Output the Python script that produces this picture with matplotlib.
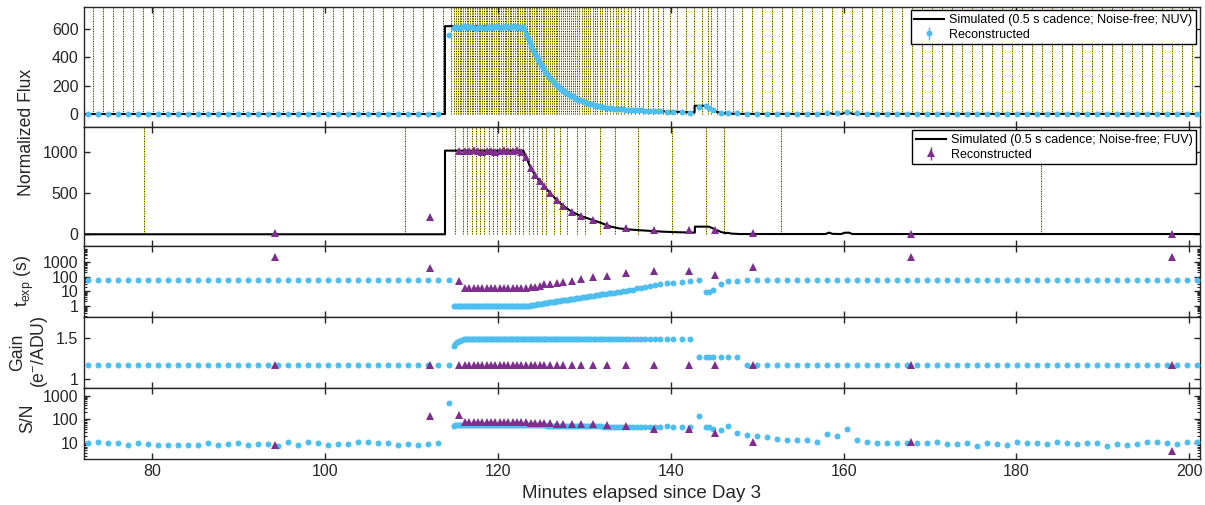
import numpy as np
import matplotlib
matplotlib.use('Agg')
import matplotlib.pyplot as plt
from matplotlib.ticker import LogLocator, NullFormatter

plt.rcParams['font.family'] = ['Liberation Sans', 'DejaVu Sans']
plt.rcParams['mathtext.fontset'] = 'custom'
plt.rcParams['mathtext.rm'] = 'Liberation Sans'
plt.rcParams['mathtext.it'] = 'Liberation Sans'

# ---------------- data ----------------
nuv_time = [72.51, 73.67, 74.82, 75.98, 77.14, 78.30, 79.45, 80.61, 81.77, 82.93, 84.08, 85.24,
            86.40, 87.56, 88.71, 89.87, 91.03, 92.19, 93.34, 94.50, 95.66, 96.82, 97.97, 99.13,
            100.29, 101.45, 102.60, 103.76, 104.92, 106.08, 107.23, 108.39, 109.55, 110.71, 111.86, 113.02,
            114.30,
            114.85, 115.05, 115.25, 115.45, 115.65, 115.85, 116.05, 116.25, 116.45, 116.65, 116.85, 117.05,
            117.25, 117.45, 117.65, 117.85, 118.05, 118.25, 118.45, 118.65, 118.85, 119.05, 119.25, 119.45,
            119.65, 119.85, 120.05, 120.25, 120.45, 120.65, 120.85, 121.05, 121.25, 121.45, 121.65, 121.85,
            122.05, 122.25, 122.45, 122.65, 122.85, 123.05,
            123.25, 123.45, 123.65, 123.85, 124.05, 124.25, 124.45, 124.65, 124.85, 125.06, 125.27, 125.48,
            125.69, 125.90, 126.11, 126.32, 126.54, 126.76, 126.98, 127.20, 127.42, 127.65, 127.88, 128.11,
            128.34, 128.58, 128.82, 129.06, 129.30, 129.54, 129.79, 130.04, 130.29, 130.55, 130.81, 131.08,
            131.35, 131.63, 131.91, 132.20, 132.50, 132.80, 133.11, 133.43, 133.76, 134.10, 134.45, 134.81,
            135.18, 135.58,
            136.04, 136.50, 137.01, 137.59, 138.17, 138.74, 139.52, 140.28, 141.25, 142.22,
            143.24, 144.07, 144.45, 144.91, 145.80, 146.65, 147.69, 148.77, 149.93, 151.08, 152.25, 153.40, 154.56,
            155.79, 156.95, 158.10, 159.26, 160.42, 161.58, 162.73, 163.89, 165.05, 166.21, 167.36, 168.52,
            169.68, 170.84, 171.99, 173.15, 174.31, 175.47, 176.62, 177.78, 178.94, 180.10, 181.25, 182.41,
            183.57, 184.73, 185.88, 187.04, 188.20, 189.36, 190.51, 191.67, 192.83, 193.99, 195.14, 196.30,
            197.46, 198.62, 199.77, 200.93]

nuv_flux = [5, 5, 4, 5, 5, 4, 5, 5, 5, 4, 5, 5, 5, 4, 5, 5, 5, 4, 5, 5, 4, 5, 5, 5,
            4, 5, 5, 5, 4, 5, 5, 5, 4, 5, 5, 5,
            560,
            604, 612, 615, 610, 606, 612, 618, 614, 609, 611, 616, 613, 608, 603, 607, 612, 615, 610,
            605, 609, 614, 611, 606, 612, 617, 620, 615, 609, 612, 616, 618, 612, 608, 613, 617, 619,
            614, 610, 612, 608, 615, 598,
            565, 536, 507, 478, 452, 426, 402, 380, 359, 338, 318, 300, 283, 266, 251, 236, 222, 209,
            197, 185, 174, 163, 153, 144, 135, 127, 119, 111, 104, 98, 92, 86, 80, 75, 70, 66, 62, 58,
            54, 51, 48, 45, 43, 41, 39, 37, 35, 33, 32, 31,
            29, 27, 26, 25, 23, 21, 18, 16, 13, 12,
            53, 58, 48, 30, 11, 7, 6, 5, 5, 5, 5, 5, 5,
            5, 5, 8, 7, 14, 6, 5, 5, 4, 5, 5, 5, 4, 5, 5, 5, 4, 5, 5, 5,
            5, 4, 5, 5, 5, 4, 5, 5, 5, 5, 4, 5, 5, 5, 4, 5, 5, 5, 5, 4]

nuv_texp = [58, 58, 58, 58, 58, 58, 58, 58, 58, 58, 58, 58, 58, 58, 58, 58, 58, 58, 58, 58, 58, 58, 58, 58,
            58, 58, 58, 58, 58, 58, 58, 58, 58, 58, 58, 58,
            58,
            0.9, 0.9, 0.9, 0.9, 0.9, 0.9, 0.9, 0.9, 0.9, 0.9, 0.9, 0.9, 0.9, 0.9, 0.9, 0.9, 0.9, 0.9,
            0.9, 0.9, 0.9, 0.9, 0.9, 0.9, 0.9, 0.9, 0.9, 0.9, 0.9, 0.9, 0.9, 0.9, 0.9, 0.9, 0.9, 0.9,
            0.9, 0.9, 0.9, 0.9, 0.9, 0.9,
            0.92, 0.96, 1.0, 1.05, 1.09, 1.14, 1.19, 1.24, 1.30, 1.36, 1.42, 1.49, 1.56, 1.63, 1.71, 1.78,
            1.87, 1.96, 2.06, 2.16, 2.26, 2.38, 2.50, 2.62, 2.76, 2.9, 3.05, 3.2, 3.37, 3.55, 3.74, 3.95,
            4.16, 4.4, 4.64, 4.91, 5.2, 5.5, 5.84, 6.2, 6.6, 7.0, 7.5, 8.0, 8.6, 9.2, 9.9, 10.6, 11.4, 12.5,
            15.6, 17.3, 20.3, 23.8, 28, 31, 34.7, 38.5, 45, 53,
            56, 9.1, 9.1, 11.9, 31, 48, 50, 57, 57, 57, 57, 57, 57,
            57, 57, 57, 57, 57, 57, 57, 57, 57, 57, 57, 57, 57, 57, 57, 57, 57, 57, 57, 57,
            57, 57, 57, 57, 57, 57, 57, 57, 57, 57, 57, 57, 57, 57, 57, 57, 57, 57, 57, 57]

nuv_gain = [1.17, 1.17, 1.17, 1.17, 1.17, 1.17, 1.17, 1.17, 1.17, 1.17, 1.17, 1.17, 1.17, 1.17, 1.17, 1.17,
            1.17, 1.17, 1.17, 1.17, 1.17, 1.17, 1.17, 1.17, 1.17, 1.17, 1.17, 1.17, 1.17, 1.17, 1.17, 1.17,
            1.17, 1.17, 1.17, 1.17,
            1.17,
            1.41, 1.43, 1.45, 1.46, 1.47, 1.48, 1.49, 1.49, 1.49, 1.49, 1.49, 1.49, 1.49, 1.49, 1.49, 1.49,
            1.49, 1.49, 1.49, 1.49, 1.49, 1.49, 1.49, 1.49, 1.49, 1.49, 1.49, 1.49, 1.49, 1.49, 1.49, 1.49,
            1.49, 1.49, 1.49, 1.49, 1.49, 1.49, 1.49, 1.49, 1.49, 1.49,
            1.49, 1.49, 1.49, 1.49, 1.49, 1.49, 1.49, 1.49, 1.49, 1.49, 1.49, 1.49, 1.49, 1.49, 1.49, 1.49,
            1.49, 1.49, 1.49, 1.49, 1.49, 1.49, 1.49, 1.49, 1.49, 1.49, 1.49, 1.49, 1.49, 1.49, 1.49, 1.49,
            1.49, 1.49, 1.49, 1.49, 1.49, 1.49, 1.49, 1.49, 1.49, 1.49, 1.49, 1.49, 1.49, 1.49, 1.49, 1.49,
            1.49, 1.49,
            1.49, 1.49, 1.49, 1.49, 1.49, 1.49, 1.49, 1.49, 1.49, 1.49,
            1.27, 1.27, 1.27, 1.27, 1.27, 1.27, 1.27, 1.17, 1.17, 1.17, 1.17, 1.17, 1.17,
            1.17, 1.17, 1.17, 1.17, 1.17, 1.17, 1.17, 1.17, 1.17, 1.17, 1.17, 1.17, 1.17, 1.17, 1.17, 1.17,
            1.17, 1.17, 1.17, 1.17, 1.17, 1.17, 1.17, 1.17, 1.17, 1.17, 1.17, 1.17, 1.17, 1.17, 1.17, 1.17,
            1.17, 1.17, 1.17, 1.17, 1.17, 1.17, 1.17, 1.17]

nuv_snr = [10.0, 11.0, 10.0, 10.3, 8.2, 9.7, 8.8, 8.5, 8.2, 8.2, 8.5, 8.5, 9.7, 8.0, 9.1, 9.7, 8.5, 9.4,
           8.8, 7.7, 11.0, 8.5, 10.6, 10.0, 8.5, 9.1, 8.8, 10.6, 10.6, 10.3, 10.3, 8.5, 8.8, 8.5, 9.4, 9.7,
           480,
           55, 56, 57, 58, 59, 59, 59, 59, 59, 59, 59, 59, 59, 59, 59, 59, 59, 59, 59, 59, 59, 59,
           59, 59, 59, 59, 59, 59, 59, 59, 59, 59, 59, 59, 59, 59, 59, 59, 59, 59, 59, 59,
           58, 58, 58, 57, 57, 57, 57, 56, 56, 56, 56, 56, 55, 55, 55, 55, 55, 54, 54, 54, 54, 54, 53, 53,
           53, 53, 53, 52, 52, 52, 52, 52, 52, 51, 51, 51, 51, 51, 51, 50, 50, 50, 50, 50, 50, 50, 50, 50,
           50, 50,
           50, 50, 50, 50, 50, 50, 53, 46, 47, 50,
           141, 50, 47, 40, 36, 52, 26, 21, 19, 17.4, 14.8, 12.9, 13.8,
           12.9, 10.6, 24, 19, 40, 13.8, 11, 10, 10, 10.3, 9.7, 10, 10, 11.4, 9.4, 9.1, 10, 7.2, 10.3, 9.1,
           8.5, 10.6, 10.3, 10.3, 9.4, 11.4, 9.7, 9.1, 10, 9.7, 7.5, 9.4, 8.2, 8.8, 11, 11, 9.7, 9.1, 11.4, 10.6]

fuv_time = [94.15, 112.13, 115.48, 116.18, 116.68, 117.18, 117.68, 118.18, 118.68, 119.18, 119.68,
            120.18, 120.68, 121.18, 121.68, 122.18, 122.68, 123.24, 123.78, 124.28, 124.80, 125.32,
            126.01, 126.79, 127.55, 128.56, 129.60, 130.96, 132.64, 134.84, 138.08, 142.06, 145.11,
            149.54, 167.79, 197.96]
fuv_flux = [10, 207, 1015, 1010, 1020, 1025, 1015, 1005, 1012, 1020, 1000, 1018, 1025, 1010, 1015, 1022,
            1008, 939, 805, 723, 650, 589, 507, 418, 345, 276, 223, 174, 113, 80, 52, 52, 52, 12, 8, 5]
fuv_texp = [2230, 383, 52, 15.6, 15.6, 15.6, 15.6, 15.6, 15.6, 15.6, 15.6, 15.6, 15.6, 15.6, 15.6,
            15.6, 15.6, 15.6, 18.3, 20, 24, 29.5, 31, 35, 43, 53, 66, 91, 118, 172, 263, 263, 138,
            450, 2230, 2230]
fuv_gain = [1.17, 1.17, 1.17, 1.17, 1.17, 1.17, 1.17, 1.17, 1.17, 1.17, 1.17, 1.17, 1.17, 1.17, 1.17,
            1.17, 1.17, 1.17, 1.17, 1.17, 1.17, 1.17, 1.17, 1.17, 1.17, 1.17, 1.17, 1.17, 1.17, 1.17,
            1.17, 1.17, 1.17, 1.17, 1.17, 1.17]
fuv_snr = [8.5, 145, 154, 78, 78, 78, 78, 78, 78, 78, 78, 78, 78, 78, 78, 78, 78, 74, 69, 69, 69, 69,
           68, 66, 66, 66, 64, 62, 57, 54, 39, 39, 26, 11, 10.6, 4.7]

# FUV exposure boundaries (start times of exposures)
fuv_bounds = [79.06, 109.27, 114.96, 115.93, 116.43, 116.93, 117.43, 117.93, 118.43, 118.93, 119.43,
              119.93, 120.43, 120.93, 121.43, 121.93, 122.43, 122.93, 123.55, 124.01, 124.55, 125.05,
              125.60, 126.42, 127.16, 127.94, 129.18, 130.02, 131.85, 133.50, 136.15, 140.08, 144.05,
              146.20, 152.78, 182.85]

# simulated (0.5 s cadence) light curves, as vertices
sim_nuv_t = [72.0, 113.86, 113.86, 122.93, 123.3, 123.8, 124.3, 124.8, 125.3, 125.8, 126.3, 126.8,
             127.3, 127.8, 128.3, 128.8, 129.3, 129.8, 130.5, 131.2, 132.0, 133.0, 134.0, 135.0, 136.0,
             137.5, 139.0, 140.5, 142.0, 142.75, 142.75, 143.9, 144.3, 144.8, 145.3, 145.8, 146.5,
             147.5, 158.0, 158.4, 158.8, 159.8, 160.2, 160.7, 161.0, 201.5]
sim_nuv_f = [2, 2, 620, 620, 557, 482, 417, 362, 314, 272, 236, 205, 179, 156, 136, 119, 104, 91, 76,
             64, 52, 42, 35, 30, 27, 24, 21, 18, 15, 14, 60, 60, 55, 35, 18, 10, 6, 3, 3, 8, 3, 3, 12, 12,
             3, 3]
sim_fuv_t = [72.0, 113.86, 113.86, 122.93, 123.3, 123.8, 124.3, 124.8, 125.3, 125.8, 126.3, 126.8,
             127.3, 127.8, 128.3, 128.8, 129.3, 129.8, 130.5, 131.2, 132.0, 133.0, 134.0, 135.0, 136.0,
             137.5, 139.0, 140.5, 142.0, 142.78, 142.78, 144.4, 144.8, 145.3, 145.8, 146.3, 146.6,
             147.0, 148.0, 157.9, 158.3, 158.7, 159.7, 160.1, 160.6, 161.0, 201.5]
sim_fuv_f = [0, 0, 1020, 1020, 925, 805, 720, 650, 592, 530, 472, 418, 368, 328, 292, 262, 236, 215,
             190, 165, 135, 95, 72, 60, 52, 42, 32, 26, 22, 20, 93, 93, 75, 50, 28, 15, 18, 8, 3, 3, 20,
             5, 3, 18, 20, 3, 3]

# ---------------- style ----------------
BLUE = '#4DBEEE'
PURPLE = '#7E2F8E'
AX_COL = '#262626'
YEL = '#e6dc4c'
TICK_FS = 11.5
LAB_FS = 12.7

W_PX, H_PX = 1205, 505
fig = plt.figure(figsize=(W_PX / 100, H_PX / 100), dpi=100)

left_px, right_px = 84, 1200
rows = [(6.7, 126.7), (126.7, 246.0), (246.0, 317.0), (317.0, 387.5), (387.5, 458.7)]
axes = []
for top, bot in rows:
    ax = fig.add_axes([left_px / W_PX, 1 - bot / H_PX, (right_px - left_px) / W_PX, (bot - top) / H_PX])
    axes.append(ax)
ax1, ax2, ax3, ax4, ax5 = axes

nt = np.array(nuv_time)
nuv_bounds = (nt[1:] + nt[:-1]) / 2.0


def dotted_vlines(ax, xs, top):
    ax.vlines(xs, 0, top, colors=YEL, linewidth=0.8, zorder=0.5)
    ax.vlines(xs, 0, top, colors='#222222', linewidth=0.6, linestyles=(0, (1.2, 1.8)), zorder=0.6)


# Panel 1 - NUV flux
ax1.set_ylim(-87, 757)
dotted_vlines(ax1, nuv_bounds, 757)
l1, = ax1.plot(sim_nuv_t, sim_nuv_f, color='k', lw=1.5, zorder=2)
ax1.plot(nuv_time, nuv_flux, 'o', color=BLUE, ms=4.3, mew=0, zorder=3)
e1 = ax1.errorbar([np.nan], [np.nan], yerr=[1], fmt='o', color=BLUE, ms=4.3, mew=0, capsize=2, elinewidth=1)
leg1 = ax1.legend([l1, e1], ['Simulated (0.5 s cadence; Noise-free; NUV)', 'Reconstructed'],
                  loc='upper right', fontsize=9, fancybox=False, framealpha=1, edgecolor='k',
                  borderaxespad=0.3, handlelength=2.4, borderpad=0.3, labelspacing=0.2, handletextpad=0.4)
leg1.get_frame().set_linewidth(1.0)
ax1.set_yticks([0, 200, 400, 600])

# Panel 2 - FUV flux
ax2.set_ylim(-143, 1312)
dotted_vlines(ax2, fuv_bounds, 1312)
l2, = ax2.plot(sim_fuv_t, sim_fuv_f, color='k', lw=1.5, zorder=2)
ax2.plot(fuv_time, fuv_flux, '^', color=PURPLE, ms=5.5, mew=0, zorder=3)
e2 = ax2.errorbar([np.nan], [np.nan], yerr=[1], fmt='^', color=PURPLE, ms=5.5, mew=0, capsize=2, elinewidth=1)
leg2 = ax2.legend([l2, e2], ['Simulated (0.5 s cadence; Noise-free; FUV)', 'Reconstructed'],
                  loc='upper right', fontsize=9, fancybox=False, framealpha=1, edgecolor='k',
                  borderaxespad=0.3, handlelength=2.4, borderpad=0.3, labelspacing=0.2, handletextpad=0.4)
leg2.get_frame().set_linewidth(1.0)
ax2.set_yticks([0, 500, 1000])

# Panel 3 - exposure time
ax3.set_yscale('log')
ax3.set_ylim(0.16, 13500)
ax3.plot(nuv_time, nuv_texp, 'o', color=BLUE, ms=4.3, mew=0, zorder=3)
ax3.plot(fuv_time, fuv_texp, '^', color=PURPLE, ms=5.5, mew=0, zorder=3)
ax3.set_yticks([1, 10, 100, 1000])
ax3.set_yticklabels(['1', '10', '100', '1000'])

# Panel 4 - gain
ax4.set_ylim(0.896, 1.76)
ax4.plot(nuv_time, nuv_gain, 'o', color=BLUE, ms=4.3, mew=0, zorder=3)
ax4.plot(fuv_time, fuv_gain, '^', color=PURPLE, ms=5.5, mew=0, zorder=3)
ax4.set_yticks([1, 1.5])
ax4.set_yticklabels(['1', '1.5'])

# Panel 5 - S/N
ax5.set_yscale('log')
ax5.set_ylim(2.2, 2200)
ax5.plot(nuv_time, nuv_snr, 'o', color=BLUE, ms=4.3, mew=0, zorder=3)
ax5.plot(fuv_time, fuv_snr, '^', color=PURPLE, ms=5.5, mew=0, zorder=3)
ax5.set_yticks([10, 100, 1000])
ax5.set_yticklabels(['10', '100', '1000'])

for ax in axes:
    ax.set_xlim(72.08, 201.24)
    ax.set_xticks([80, 100, 120, 140, 160, 180, 200])
    for sp in ax.spines.values():
        sp.set_color(AX_COL)
        sp.set_linewidth(1.0)
    ax.tick_params(which='major', direction='in', length=4.5, width=1.0, color=AX_COL,
                   top=True, right=True, labelsize=TICK_FS, labelcolor=AX_COL, pad=4)
    ax.tick_params(which='minor', direction='in', length=2.5, width=0.8, color=AX_COL,
                   top=False, right=True, bottom=False)
    if ax is not ax5:
        ax.tick_params(labelbottom=False)

for ax in (ax3, ax5):
    ax.yaxis.set_minor_locator(LogLocator(base=10, subs=np.arange(2, 10), numticks=20))
    ax.yaxis.set_minor_formatter(NullFormatter())

ax5.set_xticklabels(['80', '100', '120', '140', '160', '180', '200'])

# labels
fig.text(27 / W_PX, 1 - 132 / H_PX, 'Normalized Flux', rotation=90, ha='center', va='center',
         fontsize=LAB_FS, color=AX_COL)
fig.text(24 / W_PX, 1 - 281 / H_PX, r'$\mathregular{t_{exp}}$ (s)', rotation=90, ha='center', va='center',
         fontsize=LAB_FS, color=AX_COL)
fig.text(30 / W_PX, 1 - 352 / H_PX, 'Gain\n' + r'(e$^{-}$/ADU)', rotation=90, ha='center', va='center',
         fontsize=LAB_FS, color=AX_COL, multialignment='center', linespacing=1.2)
fig.text(28 / W_PX, 1 - 418 / H_PX, 'S/N', rotation=90, ha='center', va='center',
         fontsize=LAB_FS, color=AX_COL)
fig.text(642 / W_PX, 1 - 494 / H_PX, 'Minutes elapsed since Day 3', ha='center', va='center',
         fontsize=LAB_FS + 0.8, color=AX_COL)

fig.savefig('out.png', dpi=100)
